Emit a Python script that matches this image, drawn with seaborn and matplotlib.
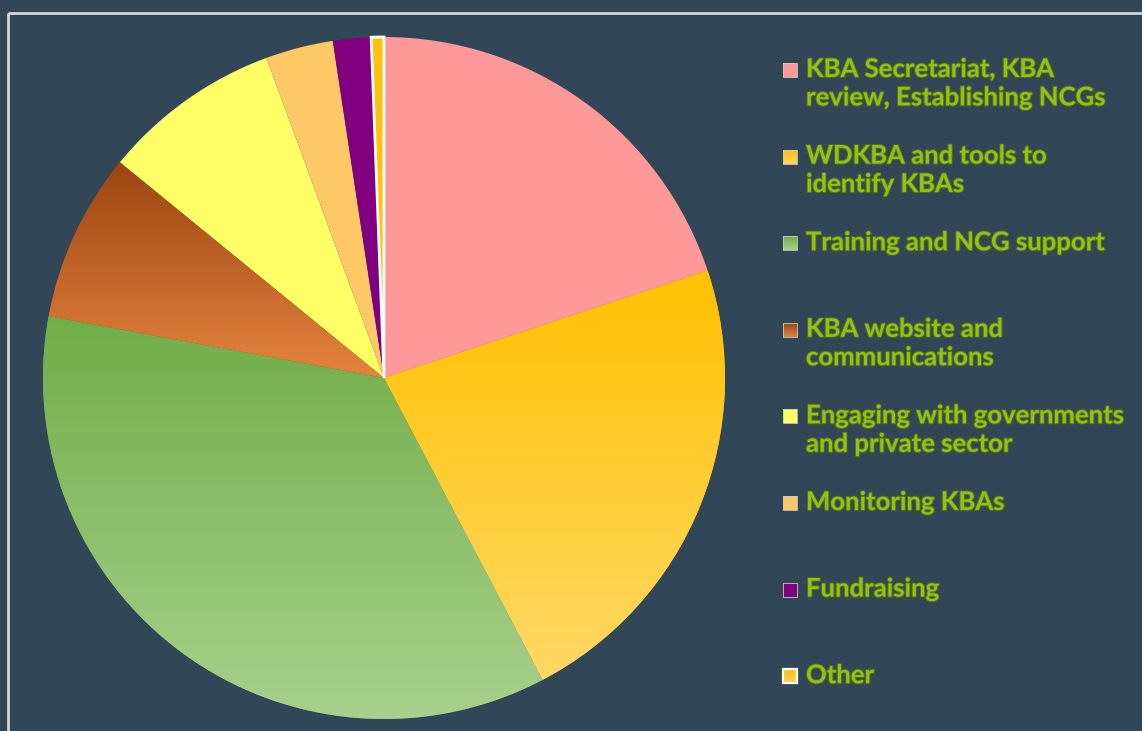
import numpy as np
import matplotlib
matplotlib.use("Agg")
import matplotlib.pyplot as plt
import matplotlib.patheffects as pe
from matplotlib.colors import LinearSegmentedColormap
from matplotlib.patches import Rectangle
import seaborn as sns

categories = [
    "KBA Secretariat, KBA\nreview, Establishing NCGs",
    "WDKBA and tools to\nidentify KBAs",
    "Training and NCG support",
    "KBA website and\ncommunications",
    "Engaging with governments\nand private sector",
    "Monitoring KBAs",
    "Fundraising",
    "Other",
]
shares = [19.9, 22.4, 35.6, 8.0, 8.5, 3.2, 1.8, 0.6]

# (top colour, bottom colour) for each slice - some slices have a vertical gradient
top_colors = ["#FF9999", "#FFC000", "#70AD47", "#9C4510", "#FFFF66", "#FFC866", "#800080", "#FFC20E"]
bottom_colors = ["#FF9999", "#FFD966", "#A9D18E", "#E5843F", "#FFFF66", "#FFC866", "#800080", "#FFCF50"]

BG = "#314757"
TEXT = "#93C11C"

sns.set_theme(style="white", rc={"figure.facecolor": BG, "axes.facecolor": BG})
plt.rcParams["font.family"] = ["Lato", "DejaVu Sans"]

W, H = 1142, 731
fig = plt.figure(figsize=(W / 100, H / 100), dpi=100)

# frame line around chart area
frame_ax = fig.add_axes([0, 0, 1, 1])
frame_ax.set_xlim(0, W)
frame_ax.set_ylim(H, 0)
frame_ax.axis("off")
frame_ax.add_patch(Rectangle((8, 13), W + 20, H + 20, fill=False, edgecolor="#D4D6D8", lw=2))

cx, cy, r = 384, 378, 341
ax = fig.add_axes([(cx - r) / W, (H - cy - r) / H, 2 * r / W, 2 * r / H])
ax.set_facecolor("none")

wedges, _ = ax.pie(
    shares,
    startangle=90,
    counterclock=False,
    radius=1,
    wedgeprops=dict(linewidth=0, edgecolor="none"),
)
ax.axis("off")


def gradient_img(c_top, c_bot):
    cmap = LinearSegmentedColormap.from_list("g", [c_top, c_bot])
    return cmap, np.linspace(0, 1, 256).reshape(-1, 1)


for w, ct, cb in zip(wedges, top_colors, bottom_colors):
    w.set_facecolor(ct)
    if ct != cb:
        # fill wedge with vertical gradient clipped to its shape
        path = w.get_path()
        ys = path.vertices[:, 1]
        xs = path.vertices[:, 0]
        cmap, arr = gradient_img(ct, cb)
        im = ax.imshow(arr, cmap=cmap, aspect="auto",
                       extent=[xs.min(), xs.max(), ys.min(), ys.max()],
                       origin="upper", zorder=w.get_zorder() + 0.1)
        im.set_clip_path(w)

# the tiny "Other" slice has a white outline
wedges[-1].set_edgecolor("white")
wedges[-1].set_linewidth(2)
wedges[-1].set_zorder(5)
ax.set_xlim(-1.0, 1.0)
ax.set_ylim(-1.0, 1.0)

# legend drawn by hand on the full-figure axes (pixel coords)
leg_y0, leg_step = 70, 86.6
for i, (lab, ct, cb) in enumerate(zip(categories, top_colors, bottom_colors)):
    y = leg_y0 + i * leg_step
    cmap, arr = gradient_img(ct, cb)
    frame_ax.imshow(arr, cmap=cmap, aspect="auto", extent=[783, 797, y + 7, y - 7],
                    origin="upper", zorder=3)
    edge = "white" if lab == "Other" else "#C9CDC0"
    frame_ax.add_patch(Rectangle((783, y - 7), 14, 14, fill=False,
                                 edgecolor=edge, lw=1.6 if lab == "Other" else 0.6, zorder=4))
    frame_ax.text(806, y - 13, lab, color=TEXT, fontsize=18.5, fontweight="bold",
                  va="top", ha="left", linespacing=1.22,
                  path_effects=[pe.withStroke(linewidth=1.4, foreground="#56720F")])

fig.savefig("out.png", dpi=100, facecolor=BG)
